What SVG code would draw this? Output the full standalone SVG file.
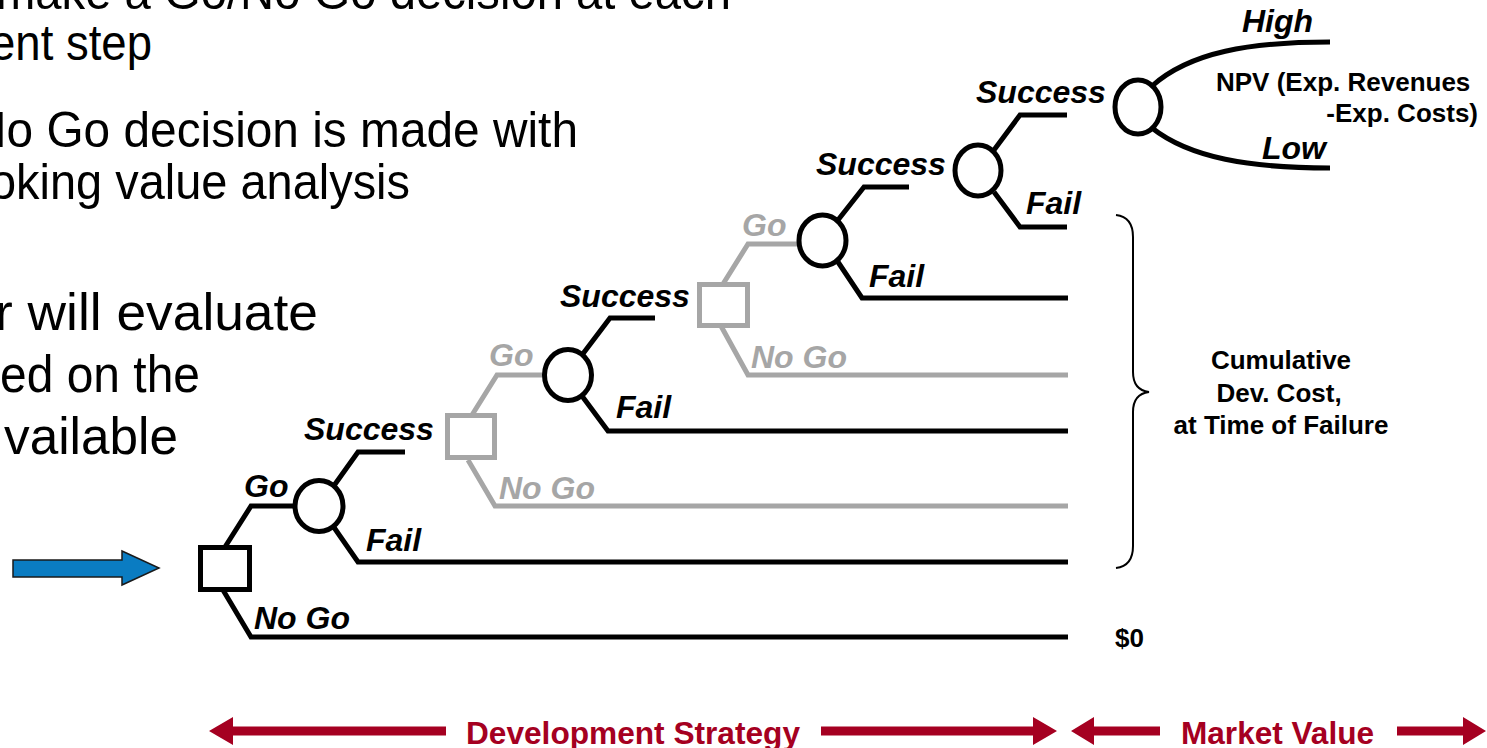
<svg xmlns="http://www.w3.org/2000/svg" width="1487" height="748" viewBox="0 0 1487 748">
<style>
.body{font-family:"Liberation Sans",Arial,sans-serif;fill:#000}
.lbl{font-family:"Liberation Sans",Arial,sans-serif;font-weight:bold;font-style:italic;font-size:32px;fill:#000}
.glbl{font-family:"Liberation Sans",Arial,sans-serif;font-weight:bold;font-style:italic;font-size:32px;fill:#A6A6A6}
.note{font-family:"Liberation Sans",Arial,sans-serif;font-weight:bold;font-size:26px;fill:#000}
.band{font-family:"Liberation Sans",Arial,sans-serif;font-weight:bold;font-size:31px;fill:#A50021}
.blk{fill:none;stroke:#000;stroke-width:5;stroke-linejoin:miter}
.gry{fill:none;stroke:#A6A6A6;stroke-width:5;stroke-linejoin:miter}
.chance{fill:#fff;stroke:#000;stroke-width:5}
.dec{fill:#fff;stroke:#000;stroke-width:5}
.gdec{fill:#fff;stroke:#A6A6A6;stroke-width:5}
.redarrow{fill:#A50021}
</style>
<rect x="0" y="0" width="1487" height="748" fill="#fff"/>

<g id="bullets" class="body">
<text x="-4" y="9" font-size="50" textLength="735" lengthAdjust="spacingAndGlyphs">make a Go/No Go decision at each</text>
<text x="-10" y="60" font-size="50" textLength="162" lengthAdjust="spacingAndGlyphs">ent step</text>
<text x="-28" y="147" font-size="50" textLength="606" lengthAdjust="spacingAndGlyphs">No Go decision is made with</text>
<text x="-10" y="199" font-size="50" textLength="420" lengthAdjust="spacingAndGlyphs">oking value analysis</text>
<text x="-5" y="330" font-size="52" textLength="323" lengthAdjust="spacingAndGlyphs">r will evaluate</text>
<text x="0" y="392" font-size="52" textLength="200" lengthAdjust="spacingAndGlyphs">ed on the</text>
<text x="4" y="454" font-size="52" textLength="174" lengthAdjust="spacingAndGlyphs">vailable</text>
</g>

<g id="start-arrow">
<polygon points="13,560 122,560 122,551 159,568 122,585 122,577 13,577" fill="#0A7CC2" stroke="#1a1a1a" stroke-width="1.5"/>
</g>

<g id="connectors">
<path class="blk" d="M225,547 L251,506 L300,506"/>
<path class="blk" d="M223,590 L251,637 L1068,637"/>
<path class="blk" d="M333,487 L358,452 L405,452"/>
<path class="blk" d="M333,526 L358,562 L1068,562"/>
<path class="gry" d="M472,415 L497,375 L548,375"/>
<path class="gry" d="M468,460 L495,506 L1068,506"/>
<path class="blk" d="M582,355 L610,318 L655,318"/>
<path class="blk" d="M582,396 L608,431 L1068,431"/>
<path class="gry" d="M723,284 L748,244 L800,244"/>
<path class="gry" d="M721,326 L748,375 L1068,375"/>
<path class="blk" d="M838,220 L864,187 L909,187"/>
<path class="blk" d="M838,262 L862,298 L1068,298"/>
<path class="blk" d="M994,150 L1020,115 L1067,115"/>
<path class="blk" d="M994,192 L1020,227 L1067,227"/>
<path class="blk" d="M1152,86 C1190,52 1250,42 1330,42"/>
<path class="blk" d="M1152,128 C1190,158 1250,168 1330,168"/>
<path d="M1116,215 Q1133,217 1133,237 L1133,372 Q1133,390 1149,392 Q1133,394 1133,412 L1133,546 Q1133,566 1116,568" fill="none" stroke="#000" stroke-width="2"/>
</g>

<g id="decision1"><rect class="dec" x="200.5" y="547.5" width="49" height="42"/></g>
<g id="chance1"><ellipse class="chance" cx="319" cy="506" rx="24" ry="25.5"/></g>
<g id="decision2"><rect class="gdec" x="447.5" y="415.5" width="47" height="42"/></g>
<g id="chance2"><ellipse class="chance" cx="568" cy="375" rx="23.5" ry="25.5"/></g>
<g id="decision3"><rect class="gdec" x="699.5" y="284.5" width="48" height="41"/></g>
<g id="chance3"><ellipse class="chance" cx="822.5" cy="240.5" rx="23.5" ry="25.5"/></g>
<g id="chance4"><ellipse class="chance" cx="978" cy="170.5" rx="23" ry="25.5"/></g>
<g id="chance5"><ellipse class="chance" cx="1138" cy="107" rx="23" ry="27"/></g>

<g id="labels">
<text class="lbl" x="244" y="497">Go</text>
<text class="lbl" x="254" y="629">No Go</text>
<text class="lbl" x="304" y="440">Success</text>
<text class="lbl" x="366" y="551">Fail</text>
<text class="glbl" x="489" y="366">Go</text>
<text class="glbl" x="499" y="499">No Go</text>
<text class="lbl" x="560" y="307">Success</text>
<text class="lbl" x="616" y="418">Fail</text>
<text class="glbl" x="742" y="236">Go</text>
<text class="glbl" x="751" y="368">No Go</text>
<text class="lbl" x="816" y="175">Success</text>
<text class="lbl" x="869" y="287">Fail</text>
<text class="lbl" x="976" y="103">Success</text>
<text class="lbl" x="1026" y="214">Fail</text>
<text class="lbl" x="1242" y="32">High</text>
<text class="lbl" x="1262" y="159">Low</text>
</g>

<g id="notes">
<text class="note" x="1216" y="91">NPV (Exp. Revenues</text>
<text class="note" x="1478" y="122" text-anchor="end">-Exp. Costs)</text>
<text class="note" x="1281" y="369" text-anchor="middle">Cumulative</text>
<text class="note" x="1279" y="402" text-anchor="middle">Dev. Cost,</text>
<text class="note" x="1281" y="434" text-anchor="middle">at Time of Failure</text>
<text class="note" x="1115" y="647">$0</text>
</g>

<g id="bottom-band">
<polygon class="redarrow" points="209,731 233,717 233,726.5 446,726.5 446,735.5 233,735.5 233,745"/>
<text class="band" x="466" y="744" textLength="334" lengthAdjust="spacingAndGlyphs">Development Strategy</text>
<polygon class="redarrow" points="821,726.5 1033,726.5 1033,717 1057,731 1033,745 1033,735.5 821,735.5"/>
<polygon class="redarrow" points="1071,731 1094,717 1094,726.5 1160,726.5 1160,735.5 1094,735.5 1094,745"/>
<text class="band" x="1181" y="744" textLength="193" lengthAdjust="spacingAndGlyphs">Market Value</text>
<polygon class="redarrow" points="1397,726.5 1463,726.5 1463,717 1486,731 1463,745 1463,735.5 1397,735.5"/>
</g>
</svg>
